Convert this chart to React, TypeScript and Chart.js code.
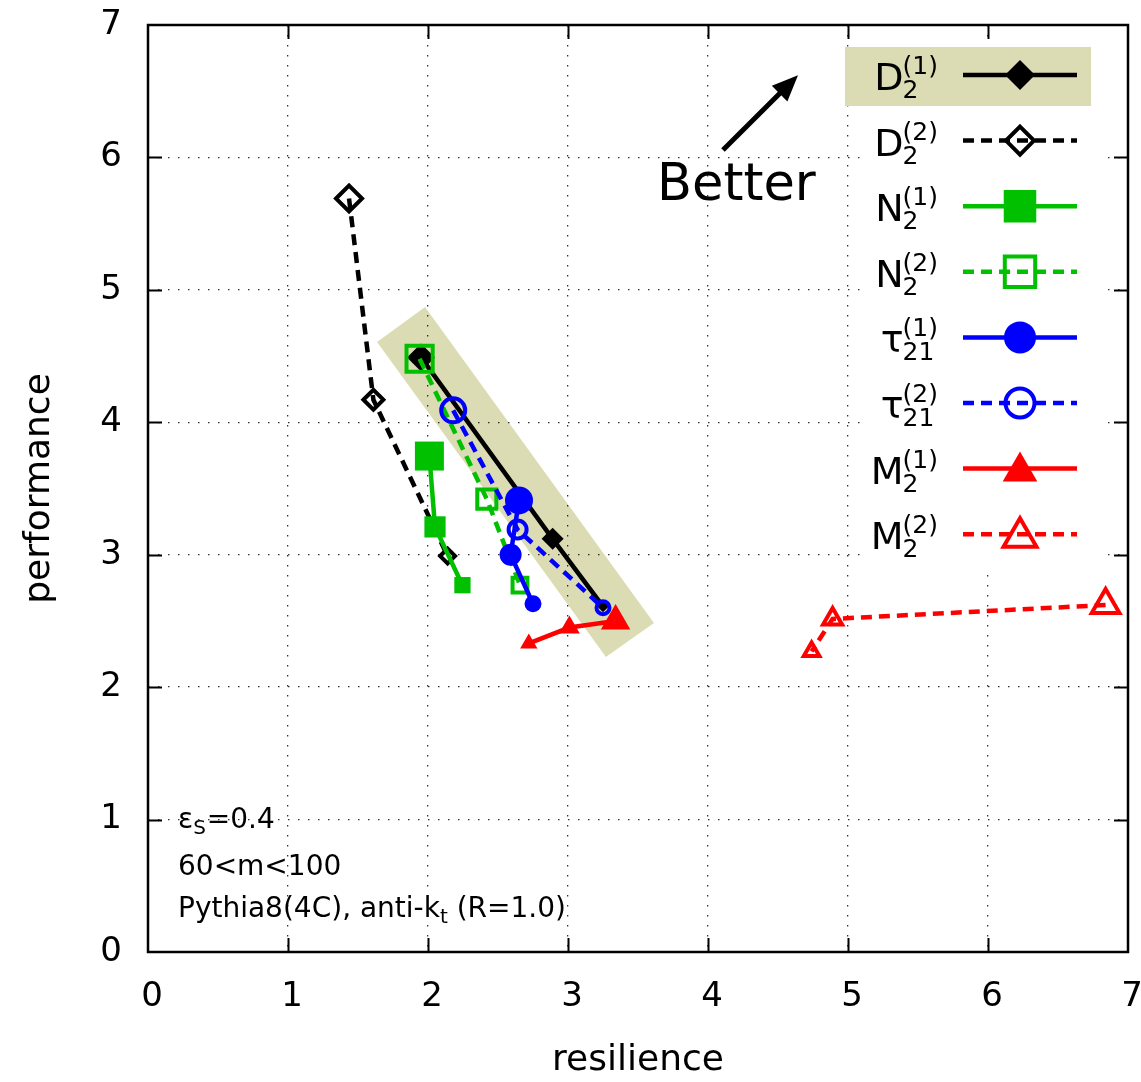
import React, { useEffect, useRef } from 'react';
import { Chart, registerables } from 'chart.js';

Chart.register(...registerables);

// ---- axis ----
const X_MIN = 0;
const X_MAX = 7;
const Y_MIN = 0;
const Y_MAX = 7;
const TICK_STEP = 1;
const X_TITLE = 'resilience';
const Y_TITLE = 'performance';

// ---- series values (resilience, performance) ----
const D2_1_X = [1.95, 2.89, 3.25];
const D2_1_Y = [4.49, 3.12, 2.61];
const D2_2_X = [1.436, 1.61, 2.14];
const D2_2_Y = [5.69, 4.17, 2.99];
const N2_1_X = [2.01, 2.05, 2.246];
const N2_1_Y = [3.745, 3.21, 2.77];
const N2_2_X = [1.94, 2.42, 2.657];
const N2_2_Y = [4.48, 3.42, 2.77];
const T21_1_X = [2.65, 2.59, 2.75];
const T21_1_Y = [3.41, 3.0, 2.63];
const T21_2_X = [2.18, 2.64, 3.25];
const T21_2_Y = [4.09, 3.19, 2.6];
const M2_1_X = [3.34, 3.01, 2.72];
const M2_1_Y = [2.5, 2.45, 2.33];
const M2_2_X = [6.84, 4.89, 4.74];
const M2_2_Y = [2.62, 2.515, 2.27];

// highlighted band (data coordinates of its 4 corners)
const BAND_X = [1.636, 1.979, 3.614, 3.271];
const BAND_Y = [4.606, 4.871, 2.484, 2.228];

// legend labels
const LEG_MAIN = ['D', 'D', 'N', 'N', 'τ', 'τ', 'M', 'M'];
const LEG_SUB = ['2', '2', '2', '2', '21', '21', '2', '2'];
const LEG_SUP = ['(1)', '(2)', '(1)', '(2)', '(1)', '(2)', '(1)', '(2)'];

// annotation text and anchors (data coordinates)
const BETTER = 'Better';
const BETTER_AT = { x: 3.636, y: 5.68 };
const ARROW_FROM = { x: 4.107, y: 6.056 };
const ARROW_TO = { x: 4.643, y: 6.62 };
const NOTE_LINES = ['ε', '60<m<100', 'Pythia8(4C), anti-k'];

// ---- styles ----
const FONT = "'DejaVu Sans', 'Liberation Sans', sans-serif";
const BLACK = '#000000';
const GREEN = '#00c000';
const BLUE = '#0000ff';
const RED = '#ff0000';
const BEIGE = '#dcdcb4';
const DASH = [11, 7];
const LINE_W = 4.5;

type SeriesStyle = {
  color: string;
  dashed: boolean;
  pointStyle: string;
  filled: boolean;
  radii: number[];
  legendRadius: number;
};

const STYLES: SeriesStyle[] = [
  { color: BLACK, dashed: false, pointStyle: 'rectRot', filled: true, radii: [14, 11, 6], legendRadius: 15 },
  { color: BLACK, dashed: true, pointStyle: 'rectRot', filled: false, radii: [13, 10, 7.5], legendRadius: 14 },
  { color: GREEN, dashed: false, pointStyle: 'rect', filled: true, radii: [20.5, 15, 11.5], legendRadius: 23 },
  { color: GREEN, dashed: true, pointStyle: 'rect', filled: false, radii: [18.5, 13.5, 10.5], legendRadius: 21.5 },
  { color: BLUE, dashed: false, pointStyle: 'circle', filled: true, radii: [14, 11, 8.5], legendRadius: 16 },
  { color: BLUE, dashed: true, pointStyle: 'circle', filled: false, radii: [12, 9, 6.5], legendRadius: 14.5 },
  { color: RED, dashed: false, pointStyle: 'triangle', filled: true, radii: [17, 12, 10], legendRadius: 20 },
  { color: RED, dashed: true, pointStyle: 'triangle', filled: false, radii: [16, 11, 9], legendRadius: 19 },
];

const SERIES_X = [D2_1_X, D2_2_X, N2_1_X, N2_2_X, T21_1_X, T21_2_X, M2_1_X, M2_2_X];
const SERIES_Y = [D2_1_Y, D2_2_Y, N2_1_Y, N2_2_Y, T21_1_Y, T21_2_Y, M2_1_Y, M2_2_Y];

function drawMarker(
  ctx: CanvasRenderingContext2D,
  style: string,
  x: number,
  y: number,
  r: number,
  filled: boolean,
  color: string,
  lw: number
) {
  ctx.beginPath();
  if (style === 'rectRot') {
    ctx.moveTo(x, y - r);
    ctx.lineTo(x + r, y);
    ctx.lineTo(x, y + r);
    ctx.lineTo(x - r, y);
    ctx.closePath();
  } else if (style === 'rect') {
    const h = r * Math.SQRT1_2;
    ctx.rect(x - h, y - h, 2 * h, 2 * h);
  } else if (style === 'circle') {
    ctx.arc(x, y, r, 0, Math.PI * 2);
  } else {
    const s = Math.sin((2 * Math.PI) / 3) * r;
    ctx.moveTo(x, y - r);
    ctx.lineTo(x + s, y + r / 2);
    ctx.lineTo(x - s, y + r / 2);
    ctx.closePath();
  }
  if (filled) {
    ctx.fillStyle = color;
    ctx.fill();
  } else {
    ctx.setLineDash([]);
    ctx.strokeStyle = color;
    ctx.lineWidth = lw;
    ctx.stroke();
  }
}

const LEG = { boxL: 866, boxR: 1100, boxT: 42, boxB: 567, hiL: 845, hiR: 1091, hiT: 47, hiB: 106, textR: 938, lineL: 963, lineR: 1077, row0: 75, rowStep: 65.6 };

const decoPlugin = {
  id: 'deco',
  beforeDraw(chart: any) {
    const { ctx, scales } = chart;
    const xs = scales.x;
    const ys = scales.y;
    ctx.save();
    ctx.fillStyle = BEIGE;
    ctx.beginPath();
    BAND_X.forEach((bx, i) => {
      const px = xs.getPixelForValue(bx);
      const py = ys.getPixelForValue(BAND_Y[i]);
      if (i === 0) ctx.moveTo(px, py);
      else ctx.lineTo(px, py);
    });
    ctx.closePath();
    ctx.fill();
    ctx.fillRect(LEG.hiL, LEG.hiT, LEG.hiR - LEG.hiL, LEG.hiB - LEG.hiT);
    ctx.restore();
  },
  beforeDatasetsDraw(chart: any) {
    const { ctx } = chart;
    ctx.save();
    ctx.fillStyle = '#ffffff';
    ctx.fillRect(LEG.boxL, LEG.boxT, LEG.boxR - LEG.boxL, LEG.boxB - LEG.boxT);
    ctx.fillStyle = BEIGE;
    ctx.fillRect(LEG.hiL, LEG.hiT, LEG.hiR - LEG.hiL, LEG.hiB - LEG.hiT);
    ctx.restore();
  },
  afterDraw(chart: any) {
    const { ctx, chartArea, scales } = chart;
    const xs = scales.x;
    const ys = scales.y;
    const { left, right, top, bottom } = chartArea;
    ctx.save();

    // legend
    for (let i = 0; i < STYLES.length; i++) {
      const st = STYLES[i];
      const c = LEG.row0 + i * LEG.rowStep;
      ctx.fillStyle = BLACK;
      ctx.font = `25px ${FONT}`;
      const w = Math.max(ctx.measureText(LEG_SUP[i]).width, ctx.measureText(LEG_SUB[i]).width);
      const xs0 = LEG.textR - w;
      ctx.textAlign = 'left';
      ctx.textBaseline = 'alphabetic';
      ctx.fillText(LEG_SUP[i], xs0, c - 1);
      ctx.fillText(LEG_SUB[i], xs0, c + 23);
      ctx.font = `38px ${FONT}`;
      ctx.textAlign = 'right';
      ctx.fillText(LEG_MAIN[i], xs0 + 1, c + 15);

      ctx.strokeStyle = st.color;
      ctx.lineWidth = LINE_W;
      ctx.setLineDash(st.dashed ? DASH : []);
      ctx.beginPath();
      ctx.moveTo(LEG.lineL, c);
      ctx.lineTo(LEG.lineR, c);
      ctx.stroke();
      ctx.setLineDash([]);
      drawMarker(ctx, st.pointStyle, (LEG.lineL + LEG.lineR) / 2, c + (st.pointStyle === 'triangle' ? 3 : 0), st.legendRadius, st.filled, st.color, 4);
    }

    // arrow + Better
    const ax0 = xs.getPixelForValue(ARROW_FROM.x);
    const ay0 = ys.getPixelForValue(ARROW_FROM.y);
    const ax1 = xs.getPixelForValue(ARROW_TO.x);
    const ay1 = ys.getPixelForValue(ARROW_TO.y);
    const dx = ax1 - ax0;
    const dy = ay1 - ay0;
    const len = Math.hypot(dx, dy);
    const ux = dx / len;
    const uy = dy / len;
    const hl = 26;
    const hw = 11;
    const bx = ax1 - ux * hl;
    const by = ay1 - uy * hl;
    ctx.strokeStyle = BLACK;
    ctx.lineWidth = 5;
    ctx.beginPath();
    ctx.moveTo(ax0, ay0);
    ctx.lineTo(bx + ux * 4, by + uy * 4);
    ctx.stroke();
    ctx.fillStyle = BLACK;
    ctx.beginPath();
    ctx.moveTo(ax1, ay1);
    ctx.lineTo(bx - uy * hw, by + ux * hw);
    ctx.lineTo(bx + uy * hw, by - ux * hw);
    ctx.closePath();
    ctx.fill();

    ctx.font = `51px ${FONT}`;
    ctx.textAlign = 'left';
    ctx.textBaseline = 'alphabetic';
    ctx.fillText(BETTER, xs.getPixelForValue(BETTER_AT.x), ys.getPixelForValue(BETTER_AT.y));

    // notes
    const nx = left + 30;
    ctx.font = `28px ${FONT}`;
    ctx.fillText(NOTE_LINES[0], nx, bottom - 124);
    let w0 = ctx.measureText(NOTE_LINES[0]).width;
    ctx.font = `20px ${FONT}`;
    ctx.fillText('S', nx + w0, bottom - 118);
    const wS = ctx.measureText('S').width;
    ctx.font = `28px ${FONT}`;
    ctx.fillText('=0.4', nx + w0 + wS + 1, bottom - 124);
    ctx.fillText(NOTE_LINES[1], nx, bottom - 77);
    ctx.fillText(NOTE_LINES[2], nx, bottom - 35);
    w0 = ctx.measureText(NOTE_LINES[2]).width;
    ctx.font = `20px ${FONT}`;
    ctx.fillText('t', nx + w0, bottom - 29);
    const wt = ctx.measureText('t').width;
    ctx.font = `28px ${FONT}`;
    ctx.fillText(' (R=1.0)', nx + w0 + wt, bottom - 35);

    // inward ticks
    ctx.strokeStyle = BLACK;
    ctx.lineWidth = 2;
    ctx.setLineDash([]);
    const tl = 14;
    for (let v = X_MIN + TICK_STEP; v < X_MAX; v += TICK_STEP) {
      const px = Math.round(xs.getPixelForValue(v)) + 0.5;
      ctx.beginPath();
      ctx.moveTo(px, bottom);
      ctx.lineTo(px, bottom - tl);
      ctx.moveTo(px, top);
      ctx.lineTo(px, top + tl);
      ctx.stroke();
    }
    for (let v = Y_MIN + TICK_STEP; v < Y_MAX; v += TICK_STEP) {
      const py = Math.round(ys.getPixelForValue(v)) + 0.5;
      ctx.beginPath();
      ctx.moveTo(left, py);
      ctx.lineTo(left + tl, py);
      ctx.moveTo(right, py);
      ctx.lineTo(right - tl, py);
      ctx.stroke();
    }
    // border
    ctx.lineWidth = 2.5;
    ctx.strokeRect(left, top, right - left, bottom - top);
    ctx.restore();
  },
};

function zeroPadding(s: any) {
  s.paddingLeft = 0;
  s.paddingRight = 0;
  s.paddingTop = 0;
  s.paddingBottom = 0;
}

export default function App() {
  const ref = useRef<HTMLCanvasElement | null>(null);

  useEffect(() => {
    if (!ref.current) return;
    const datasets = STYLES.map((st, i) => ({
      data: SERIES_X[i].map((x, j) => ({ x, y: SERIES_Y[i][j] })),
      showLine: true,
      fill: false,
      borderColor: st.color,
      backgroundColor: st.color,
      borderWidth: LINE_W,
      borderDash: st.dashed ? DASH : [],
      pointStyle: st.pointStyle,
      pointRadius: st.radii,
      pointHoverRadius: st.radii,
      pointBackgroundColor: st.filled ? st.color : 'rgba(0,0,0,0)',
      pointBorderColor: st.color,
      pointBorderWidth: st.filled ? 0 : 4,
      order: STYLES.length - i,
      tension: 0,
    }));

    const tickFont = { family: FONT, size: 34 };
    const titleFont = { family: FONT, size: 36 };
    const gridOpts = { color: 'rgba(0,0,0,0.8)', lineWidth: 1.3, drawTicks: false };
    const borderOpts = { display: false, dash: [1.5, 8.5] };

    const chart = new Chart(ref.current, {
      type: 'scatter',
      data: { datasets: datasets as any },
      options: {
        animation: false,
        responsive: false,
        devicePixelRatio: 1,
        layout: { autoPadding: false, padding: { left: 0, top: 25, right: 13, bottom: 0 } },
        plugins: { legend: { display: false }, tooltip: { enabled: false } },
        events: [],
        scales: {
          x: {
            type: 'linear',
            min: X_MIN,
            max: X_MAX,
            ticks: { stepSize: TICK_STEP, font: tickFont, color: BLACK, padding: 25, labelOffset: 4 },
            grid: gridOpts,
            border: borderOpts,
            title: { display: true, text: X_TITLE, font: titleFont, color: BLACK, padding: { top: 0, bottom: 0 } },
            afterFit: (s: any) => {
              s.height = 130;
              zeroPadding(s);
            },
          },
          y: {
            type: 'linear',
            min: Y_MIN,
            max: Y_MAX,
            ticks: { stepSize: TICK_STEP, font: tickFont, color: BLACK, padding: 26 },
            grid: gridOpts,
            border: borderOpts,
            title: { display: true, text: Y_TITLE, font: titleFont, color: BLACK, padding: { top: 18, bottom: 0 } },
            afterFit: (s: any) => {
              s.width = 148;
              zeroPadding(s);
            },
          },
        },
      } as any,
      plugins: [decoPlugin],
    });
    return () => chart.destroy();
  }, []);

  return (
    <div style={{ position: 'absolute', left: 0, top: 0, width: 1141, height: 1082, background: '#fff' }}>
      <canvas ref={ref} width={1141} height={1082} style={{ display: 'block' }} />
    </div>
  );
}
